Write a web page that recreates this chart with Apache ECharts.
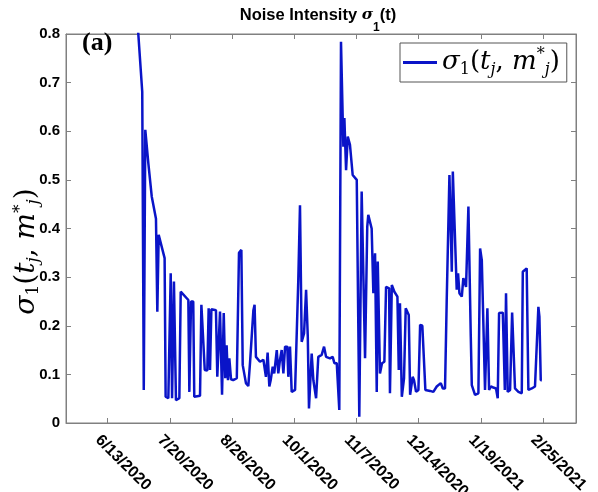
<!DOCTYPE html>
<html>
<head>
<meta charset="utf-8">
<script src="https://cdn.jsdelivr.net/npm/echarts@6/dist/echarts.min.js"></script>
<style>html,body{margin:0;padding:0;background:#fff;}#c{width:598px;height:492px;}</style>
</head>
<body>
<div id="c"></div>
<script>
// x values: days after 6/13/2020
const days = [17.1,20.4,21.3,22.2,24.0,26.0,28.5,29.3,30.1,33.6,34.2,35.8,37.2,38.0,39.1,40.3,42.3,43.1,47.6,48.2,49.2,50.5,51.1,54.5,55.3,56.4,57.3,58.8,59.6,60.4,61.2,63.9,64.7,66.3,67.5,68.5,69.4,70.2,71.0,71.8,72.8,74.1,76.2,77.5,78.9,79.7,81.6,83.0,84.0,85.0,86.0,86.7,87.5,89.9,91.9,92.9,93.4,94.4,95.4,96.2,97.4,98.3,99.8,100.7,101.7,102.7,103.7,104.7,106.0,106.6,107.6,108.6,110.6,112.5,113.5,114.5,115.9,117.1,118.1,118.8,120.4,121.4,123.0,124.3,126.3,127.7,128.9,131.2,132.8,133.8,135.2,136.7,137.7,139.1,139.7,140.7,141.7,143.0,144.6,145.4,147.0,148.5,149.9,151.9,153.2,153.8,155.8,156.8,157.8,158.8,159.4,160.7,161.9,163.3,164.3,166.1,166.6,167.7,169.2,170.2,171.0,171.8,172.5,173.6,174.9,175.9,176.9,177.7,178.5,179.5,180.0,180.8,182.0,183.4,184.4,185.7,186.7,187.5,190.3,192.2,194.2,195.2,196.6,197.8,199.1,200.1,201.7,203.1,203.7,204.8,206.0,206.8,207.6,209.0,209.9,210.9,211.5,212.9,214.3,214.9,216.8,218.8,219.8,220.8,222.7,224.1,225.1,226.1,227.6,229.2,230.2,231.0,233.2,234.4,235.1,236.1,237.5,238.7,239.4,240.4,242.4,244.4,245.0,247.3,248.3,250.3,252.2,253.2,254.2,254.8,255.6,256.2];
const sigma = [0.85,0.681,0.068,0.603,0.534,0.466,0.42,0.229,0.387,0.339,0.054,0.051,0.308,0.051,0.291,0.047,0.051,0.270,0.253,0.064,0.25,0.25,0.054,0.056,0.243,0.245,0.109,0.108,0.236,0.109,0.234,0.232,0.095,0.229,0.058,0.226,0.092,0.160,0.088,0.133,0.090,0.088,0.092,0.350,0.356,0.119,0.082,0.076,0.123,0.119,0.232,0.243,0.136,0.126,0.130,0.126,0.095,0.145,0.075,0.088,0.116,0.102,0.150,0.102,0.130,0.150,0.102,0.157,0.157,0.095,0.157,0.064,0.068,0.294,0.448,0.167,0.184,0.274,0.178,0.030,0.143,0.088,0.051,0.136,0.140,0.157,0.136,0.133,0.136,0.123,0.123,0.027,0.784,0.568,0.627,0.520,0.589,0.572,0.510,0.507,0.500,0.013,0.476,0.133,0.404,0.428,0.400,0.267,0.349,0.064,0.332,0.102,0.123,0.126,0.280,0.277,0.061,0.284,0.270,0.274,0.260,0.109,0.246,0.054,0.092,0.236,0.232,0.222,0.058,0.061,0.095,0.088,0.064,0.068,0.202,0.200,0.198,0.068,0.066,0.064,0.075,0.078,0.082,0.071,0.071,0.253,0.510,0.311,0.517,0.519,0.274,0.308,0.267,0.260,0.298,0.301,0.280,0.445,0.178,0.078,0.058,0.061,0.359,0.335,0.068,0.236,0.068,0.075,0.073,0.071,0.051,0.226,0.227,0.068,0.267,0.064,0.068,0.227,0.226,0.071,0.064,0.061,0.311,0.318,0.068,0.071,0.075,0.071,0.239,0.219,0.088,0.088];
const tickLabels = ['6/13/2020','7/20/2020','8/26/2020','10/1/2020','11/7/2020','12/14/2020','1/19/2021','2/25/2021'];
const tickDays = [0, 36.714, 73.429, 110.143, 146.857, 183.571, 220.286, 257];
const yTicks = [0, 0.1, 0.2, 0.3, 0.4, 0.5, 0.6, 0.7, 0.8];

const labelShift = -2.4; // MATLAB-style anchoring of rotated labels
const labelDays = tickDays.map(d => d + labelShift);
const data = days.map((d, i) => [d, sigma[i]]);

const frame = '#808080';
const blue = '#0a14c8';
const mathRich = (big, small, lh) => ({
  g: {fontFamily: 'DejaVu Serif', fontStyle: 'italic', fontSize: big, color: '#000', lineHeight: lh},
  p: {fontFamily: 'DejaVu Serif', fontSize: big, color: '#000', lineHeight: lh},
  i: {fontFamily: 'DejaVu Serif', fontStyle: 'italic', fontSize: big, color: '#000', lineHeight: lh},
  n: {fontFamily: 'DejaVu Serif', fontSize: small, color: '#000', lineHeight: lh, verticalAlign: 'bottom'},
  s: {fontFamily: 'DejaVu Serif', fontStyle: 'italic', fontSize: small, color: '#000', lineHeight: lh, verticalAlign: 'bottom'},
  u: {fontFamily: 'DejaVu Serif', fontSize: small, color: '#000', lineHeight: lh, verticalAlign: 'top'}
});
const mathText = '{g|σ}{n|1}{p|(}{i|t}{s|j}{p|, }{i|m}{u|*}{s|j}{p|)}';

const chart = echarts.init(document.getElementById('c'), null, {renderer: 'canvas'});
const xCommon = {type: 'value', min: -24.6, max: 276.4, splitLine: {show: false},
  axisLine: {show: true, onZero: false, lineStyle: {color: frame, width: 1}}};
const yCommon = {type: 'value', min: 0, max: 0.8, interval: 0.1, splitLine: {show: false},
  axisLine: {show: true, onZero: false, lineStyle: {color: frame, width: 1}},
  axisTick: {show: true, inside: true, length: 5, lineStyle: {color: frame}}};
chart.setOption({
  animation: false,
  backgroundColor: '#fff',
  title: {
    text: '{a|Noise Intensity }{g|σ}{s|1}{a|(t)}',
    left: 313, top: 2, textAlign: 'center',
    textStyle: {rich: {
      a: {fontFamily: 'Liberation Sans', fontWeight: 'bold', fontSize: 16.5, color: '#000', lineHeight: 27, verticalAlign: 'top'},
      g: {fontFamily: 'DejaVu Serif', fontStyle: 'italic', fontSize: 15.5, color: '#000', lineHeight: 27, verticalAlign: 'top'},
      s: {fontFamily: 'Liberation Sans', fontWeight: 'bold', fontSize: 12, color: '#000', lineHeight: 27, verticalAlign: 'bottom'}
    }}
  },
  grid: {left: 66, right: 22, top: 34, bottom: 69, containLabel: false, outerBoundsMode: 'none',
    show: true, borderColor: frame, borderWidth: 1, backgroundColor: 'transparent'},
  legend: {
    left: 400, top: 43, orient: 'horizontal',
    borderColor: '#555', borderWidth: 1, padding: [4, 7, 4, 3],
    icon: 'rect', itemWidth: 34, itemHeight: 3, itemGap: 4,
    formatter: () => mathText,
    textStyle: {padding: [0, 0, 0, 0], rich: mathRich(26, 16, 31)}
  },
  xAxis: [
    Object.assign({}, xCommon, {position: 'bottom',
      axisTick: {show: true, inside: true, length: 5, customValues: tickDays, lineStyle: {color: frame}},
      axisLabel: {show: true, customValues: labelDays, rotate: -45, margin: 9, align: 'left', verticalAlign: 'top',
        fontFamily: 'Liberation Sans', fontWeight: 'bold', fontSize: 16, color: '#000',
        formatter: v => { const i = labelDays.findIndex(d => Math.abs(d - v) < 0.01); return i >= 0 ? tickLabels[i] : ''; }}
    }),
    Object.assign({}, xCommon, {position: 'top',
      axisTick: {show: true, inside: true, length: 5, customValues: tickDays, lineStyle: {color: frame}},
      axisLabel: {show: false}
    })
  ],
  yAxis: [
    Object.assign({}, yCommon, {position: 'left',
      axisLabel: {margin: 6, fontFamily: 'Liberation Sans', fontWeight: 'bold', fontSize: 15, color: '#000',
        formatter: v => String(Math.round(v * 10) / 10)},
      name: mathText,
      nameLocation: 'middle', nameGap: 24, nameRotate: 90, nameMoveOverlap: false,
      nameTextStyle: {padding: [0, 46, 0, 0], rich: mathRich(28, 17, 30)}
    }),
    Object.assign({}, yCommon, {position: 'right', axisLabel: {show: false}})
  ],
  graphic: [{type: 'text', left: 82, top: 30, z: 10,
    style: {text: '(a)', font: 'bold 26px "Liberation Serif"', fill: '#000'}}],
  series: [{
    name: 'sigma', type: 'line', data: data, xAxisIndex: 0, yAxisIndex: 0,
    symbol: 'none', showSymbol: false, clip: true,
    lineStyle: {color: blue, width: 2.5}, itemStyle: {color: blue}
  }]
});
</script>
</body>
</html>
